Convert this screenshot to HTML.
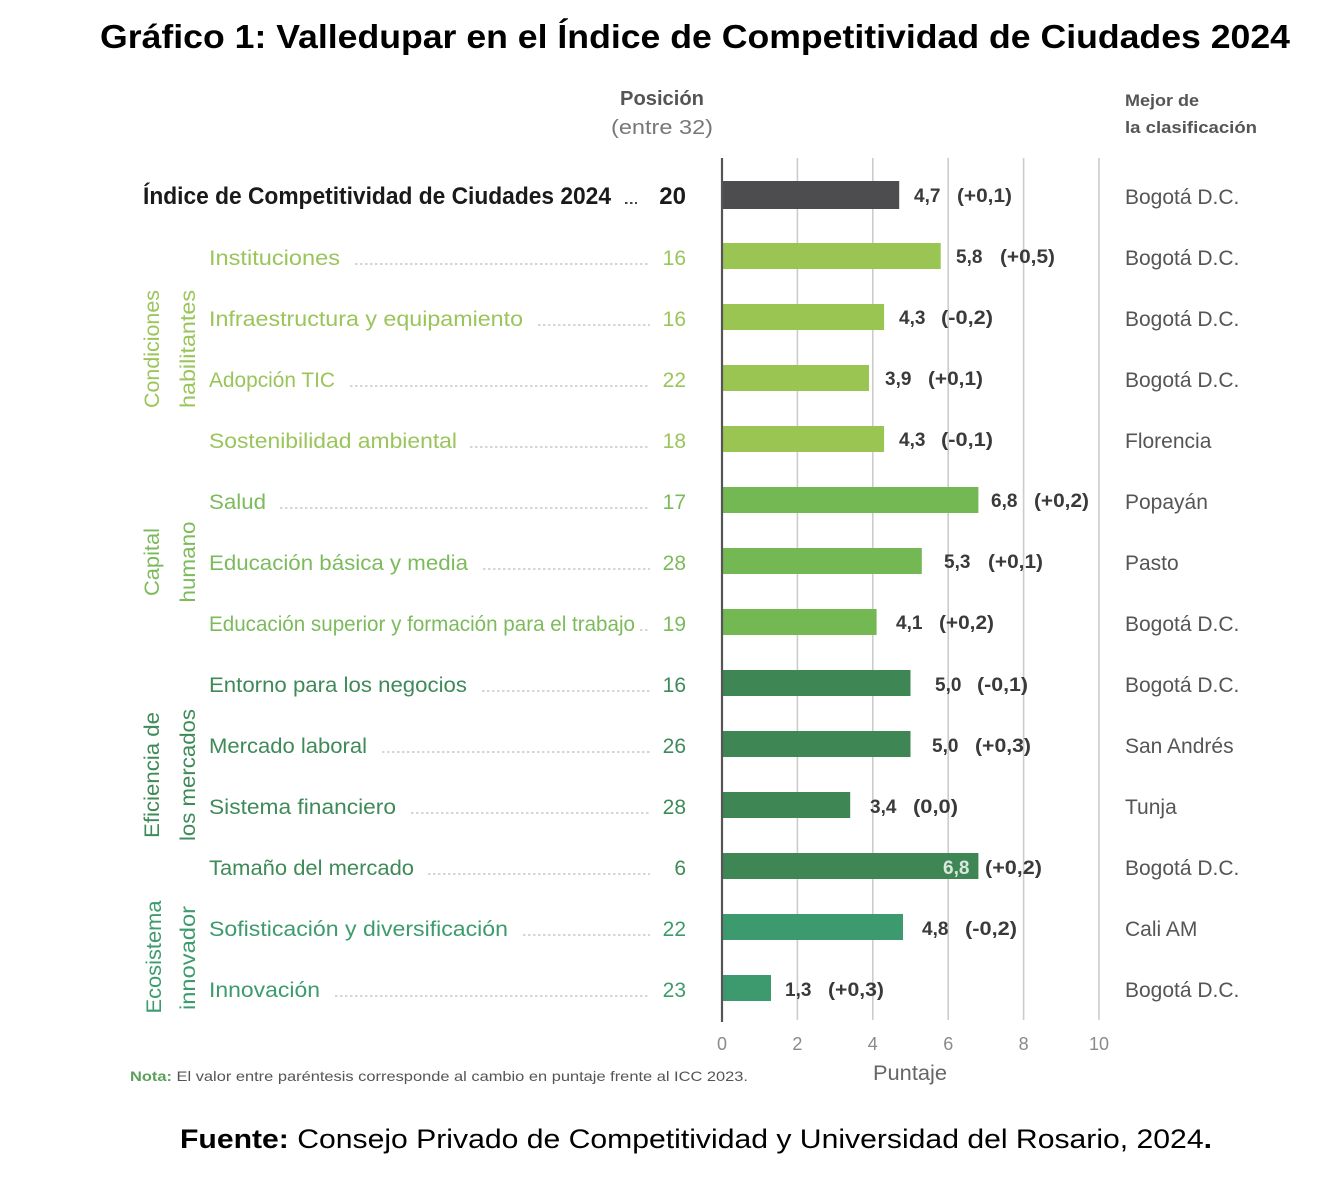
<!DOCTYPE html>
<html>
<head>
<meta charset="utf-8">
<style>
  html, body { margin:0; padding:0; background:#ffffff; }
  body { width:1343px; height:1200px; overflow:hidden; }
  svg { display:block; font-family:"Liberation Sans", "DejaVu Sans", sans-serif; }
</style>
</head>
<body>
<svg width="1343" height="1200" viewBox="0 0 1343 1200" xmlns="http://www.w3.org/2000/svg">
  <rect width="1343" height="1200" fill="#ffffff"/>

  <!-- Title -->
  <text x="100" y="48" font-size="33" font-weight="bold" fill="#000" textLength="1190" lengthAdjust="spacingAndGlyphs">Gráfico 1: Valledupar en el Índice de Competitividad de Ciudades 2024</text>

  <!-- Headers -->
  <text x="662" y="105" font-size="20" font-weight="bold" fill="#555" text-anchor="middle" textLength="84" lengthAdjust="spacingAndGlyphs">Posición</text>
  <text x="662" y="134" font-size="20" fill="#777" text-anchor="middle" textLength="102" lengthAdjust="spacingAndGlyphs">(entre 32)</text>
  <text x="1125" y="106" font-size="17" font-weight="bold" fill="#555" textLength="74" lengthAdjust="spacingAndGlyphs">Mejor de</text>
  <text x="1125" y="133" font-size="17" font-weight="bold" fill="#555" textLength="132" lengthAdjust="spacingAndGlyphs">la clasificación</text>

  <!-- Gridlines -->
  <g stroke="#cccccc" stroke-width="1.6">
    <line x1="797.4" y1="158" x2="797.4" y2="1020"/>
    <line x1="872.8" y1="158" x2="872.8" y2="1020"/>
    <line x1="948.2" y1="158" x2="948.2" y2="1020"/>
    <line x1="1023.6" y1="158" x2="1023.6" y2="1020"/>
    <line x1="1099" y1="158" x2="1099" y2="1020"/>
  </g>

  <!-- Bars -->
  <rect x="722" y="181" width="177.2" height="28" fill="#4d4d50"/>
  <g fill="#9bc553">
    <rect x="722" y="243" width="218.7" height="26"/>
    <rect x="722" y="304" width="162.1" height="26"/>
    <rect x="722" y="365" width="147.0" height="26"/>
    <rect x="722" y="426" width="162.1" height="26"/>
  </g>
  <g fill="#74b853">
    <rect x="722" y="487" width="256.4" height="26"/>
    <rect x="722" y="548" width="199.8" height="26"/>
    <rect x="722" y="609" width="154.6" height="26"/>
  </g>
  <g fill="#3e8654">
    <rect x="722" y="670" width="188.5" height="26"/>
    <rect x="722" y="731" width="188.5" height="26"/>
    <rect x="722" y="792" width="128.2" height="26"/>
    <rect x="722" y="853" width="256.4" height="26"/>
  </g>
  <g fill="#3d9a6e">
    <rect x="722" y="914" width="181.0" height="26"/>
    <rect x="722" y="975" width="49.0" height="26"/>
  </g>

  <!-- Axis line -->
  <line x1="722" y1="158" x2="722" y2="1022" stroke="#555" stroke-width="2.2"/>

  <!-- Value labels -->
  <g font-size="19" font-weight="bold" fill="#3a3a3a">
    <text x="914" y="202">4,7</text><text x="957" y="202" textLength="55" lengthAdjust="spacingAndGlyphs">(+0,1)</text>
    <text x="956" y="263">5,8</text><text x="1000" y="263" textLength="55" lengthAdjust="spacingAndGlyphs">(+0,5)</text>
    <text x="899" y="324">4,3</text><text x="941" y="324" textLength="52" lengthAdjust="spacingAndGlyphs">(-0,2)</text>
    <text x="885" y="385">3,9</text><text x="928" y="385" textLength="55" lengthAdjust="spacingAndGlyphs">(+0,1)</text>
    <text x="899" y="446">4,3</text><text x="941" y="446" textLength="52" lengthAdjust="spacingAndGlyphs">(-0,1)</text>
    <text x="991" y="507">6,8</text><text x="1034" y="507" textLength="55" lengthAdjust="spacingAndGlyphs">(+0,2)</text>
    <text x="944" y="568">5,3</text><text x="988" y="568" textLength="55" lengthAdjust="spacingAndGlyphs">(+0,1)</text>
    <text x="896" y="629">4,1</text><text x="939" y="629" textLength="55" lengthAdjust="spacingAndGlyphs">(+0,2)</text>
    <text x="935" y="691">5,0</text><text x="977" y="691" textLength="51" lengthAdjust="spacingAndGlyphs">(-0,1)</text>
    <text x="932" y="752">5,0</text><text x="975" y="752" textLength="56" lengthAdjust="spacingAndGlyphs">(+0,3)</text>
    <text x="870" y="813">3,4</text><text x="913" y="813" textLength="45" lengthAdjust="spacingAndGlyphs">(0,0)</text>
    <text x="943" y="874" fill="#d8e8dc">6,8</text><text x="985" y="874" textLength="57" lengthAdjust="spacingAndGlyphs">(+0,2)</text>
    <text x="922" y="935">4,8</text><text x="965" y="935" textLength="52" lengthAdjust="spacingAndGlyphs">(-0,2)</text>
    <text x="785" y="996">1,3</text><text x="828" y="996" textLength="56" lengthAdjust="spacingAndGlyphs">(+0,3)</text>
  </g>

  <!-- Right column -->
  <g font-size="21" fill="#555">
    <text x="1125" y="204">Bogotá D.C.</text>
    <text x="1125" y="265">Bogotá D.C.</text>
    <text x="1125" y="326">Bogotá D.C.</text>
    <text x="1125" y="387">Bogotá D.C.</text>
    <text x="1125" y="448">Florencia</text>
    <text x="1125" y="509">Popayán</text>
    <text x="1125" y="570">Pasto</text>
    <text x="1125" y="631">Bogotá D.C.</text>
    <text x="1125" y="692">Bogotá D.C.</text>
    <text x="1125" y="753">San Andrés</text>
    <text x="1125" y="814">Tunja</text>
    <text x="1125" y="875">Bogotá D.C.</text>
    <text x="1125" y="936">Cali AM</text>
    <text x="1125" y="997">Bogotá D.C.</text>
  </g>

  <!-- Dotted leaders -->
  <g stroke="#bdbdbd" stroke-width="1.2" stroke-dasharray="2.5,2.5">
    <line x1="625" y1="203" x2="637" y2="203" stroke="#444" stroke-width="2"/>
    <line x1="355" y1="264" x2="650" y2="264"/>
    <line x1="538" y1="325" x2="650" y2="325"/>
    <line x1="350" y1="386" x2="650" y2="386"/>
    <line x1="470" y1="447" x2="650" y2="447"/>
    <line x1="280" y1="508" x2="650" y2="508"/>
    <line x1="483" y1="569" x2="650" y2="569"/>
    <line x1="640" y1="630" x2="650" y2="630"/>
    <line x1="482" y1="691" x2="650" y2="691"/>
    <line x1="382" y1="752" x2="650" y2="752"/>
    <line x1="411" y1="813" x2="650" y2="813"/>
    <line x1="428" y1="874" x2="650" y2="874"/>
    <line x1="523" y1="935" x2="650" y2="935"/>
    <line x1="335" y1="996" x2="650" y2="996"/>
  </g>

  <!-- Left labels -->
  <text x="143" y="204" font-size="24" font-weight="bold" fill="#1a1a1a" textLength="468" lengthAdjust="spacingAndGlyphs">Índice de Competitividad de Ciudades 2024</text>
  <text x="686" y="204" font-size="24" font-weight="bold" fill="#1a1a1a" text-anchor="end">20</text>

  <g font-size="21" fill="#9ac55a">
    <text x="209" y="265" textLength="131" lengthAdjust="spacingAndGlyphs">Instituciones</text>
    <text x="209" y="326" textLength="314" lengthAdjust="spacingAndGlyphs">Infraestructura y equipamiento</text>
    <text x="209" y="387" textLength="126" lengthAdjust="spacingAndGlyphs">Adopción TIC</text>
    <text x="209" y="448" textLength="248" lengthAdjust="spacingAndGlyphs">Sostenibilidad ambiental</text>
    <g text-anchor="end">
      <text x="686" y="265">16</text>
      <text x="686" y="326">16</text>
      <text x="686" y="387">22</text>
      <text x="686" y="448">18</text>
    </g>
  </g>
  <g font-size="21" fill="#7cbb5c">
    <text x="209" y="509" textLength="57" lengthAdjust="spacingAndGlyphs">Salud</text>
    <text x="209" y="570" textLength="259" lengthAdjust="spacingAndGlyphs">Educación básica y media</text>
    <text x="209" y="631" textLength="426" lengthAdjust="spacingAndGlyphs">Educación superior y formación para el trabajo</text>
    <g text-anchor="end">
      <text x="686" y="509">17</text>
      <text x="686" y="570">28</text>
      <text x="686" y="631">19</text>
    </g>
  </g>
  <g font-size="21" fill="#3f8a58">
    <text x="209" y="692" textLength="258" lengthAdjust="spacingAndGlyphs">Entorno para los negocios</text>
    <text x="209" y="753" textLength="158" lengthAdjust="spacingAndGlyphs">Mercado laboral</text>
    <text x="209" y="814" textLength="187" lengthAdjust="spacingAndGlyphs">Sistema financiero</text>
    <text x="209" y="875" textLength="205" lengthAdjust="spacingAndGlyphs">Tamaño del mercado</text>
    <g text-anchor="end">
      <text x="686" y="692">16</text>
      <text x="686" y="753">26</text>
      <text x="686" y="814">28</text>
      <text x="686" y="875">6</text>
    </g>
  </g>
  <g font-size="21" fill="#3d9b6d">
    <text x="209" y="936" textLength="299" lengthAdjust="spacingAndGlyphs">Sofisticación y diversificación</text>
    <text x="209" y="997" textLength="111" lengthAdjust="spacingAndGlyphs">Innovación</text>
    <g text-anchor="end">
      <text x="686" y="936">22</text>
      <text x="686" y="997">23</text>
    </g>
  </g>

  <!-- Vertical group labels -->
  <g font-size="21" text-anchor="middle">
    <text transform="translate(159,349) rotate(-90)" fill="#9ac55a" textLength="118" lengthAdjust="spacingAndGlyphs">Condiciones</text>
    <text transform="translate(195,349) rotate(-90)" fill="#9ac55a" textLength="118" lengthAdjust="spacingAndGlyphs">habilitantes</text>
    <text transform="translate(159,562) rotate(-90)" fill="#7cbb5c" textLength="68" lengthAdjust="spacingAndGlyphs">Capital</text>
    <text transform="translate(195,562) rotate(-90)" fill="#7cbb5c" textLength="81" lengthAdjust="spacingAndGlyphs">humano</text>
    <text transform="translate(159,775) rotate(-90)" fill="#3f8a58" textLength="126" lengthAdjust="spacingAndGlyphs">Eficiencia de</text>
    <text transform="translate(195,775) rotate(-90)" fill="#3f8a58" textLength="132" lengthAdjust="spacingAndGlyphs">los mercados</text>
    <text transform="translate(161,957) rotate(-90)" fill="#3d9b6d" textLength="113" lengthAdjust="spacingAndGlyphs">Ecosistema</text>
    <text transform="translate(195,958) rotate(-90)" fill="#3d9b6d" textLength="104" lengthAdjust="spacingAndGlyphs">innovador</text>
  </g>

  <!-- Axis ticks -->
  <g font-size="18" fill="#8a8a8a" text-anchor="middle">
    <text x="722" y="1050">0</text>
    <text x="797.4" y="1050">2</text>
    <text x="872.8" y="1050">4</text>
    <text x="948.2" y="1050">6</text>
    <text x="1023.6" y="1050">8</text>
    <text x="1099" y="1050">10</text>
  </g>
  <text x="910" y="1080" font-size="21" fill="#666" text-anchor="middle" textLength="74" lengthAdjust="spacingAndGlyphs">Puntaje</text>

  <!-- Note -->
  <text x="130" y="1081" font-size="14" fill="#555" textLength="618" lengthAdjust="spacingAndGlyphs"><tspan font-weight="bold" fill="#5aa05a">Nota:</tspan> El valor entre paréntesis corresponde al cambio en puntaje frente al ICC 2023.</text>

  <!-- Source -->
  <text x="180" y="1148" font-size="27" fill="#000" textLength="1032" lengthAdjust="spacingAndGlyphs"><tspan font-weight="bold">Fuente:</tspan> Consejo Privado de Competitividad y Universidad del Rosario, 2024<tspan font-weight="bold">.</tspan></text>
</svg>
</body>
</html>
